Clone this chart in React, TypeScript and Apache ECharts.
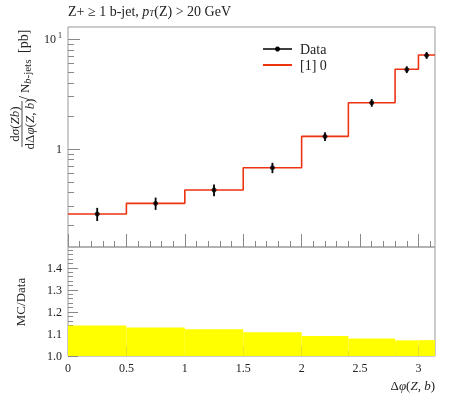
import React, { useEffect, useRef } from "react";
import * as echarts from "echarts";

const PI = Math.PI;
const binEdges = [0, 0.5, 1.0, 1.5, 2.0, 2.4, 2.8, 3.0, PI];
const mcValues = [0.256, 0.32, 0.423, 0.676, 1.305, 2.64, 5.33, 7.19];
const dataX = [0.25, 0.75, 1.25, 1.75, 2.2, 2.6, 2.9, 3.07];
const dataY = [0.256, 0.32, 0.423, 0.676, 1.3, 2.64, 5.3, 7.15];
const dataErr = [0.035, 0.041, 0.051, 0.073, 0.119, 0.211, 0.378, 0.515];
const ratioBandUp = [1.138, 1.129, 1.121, 1.108, 1.091, 1.08, 1.071, 1.072];

const xMajorTicks = [0, 0.5, 1, 1.5, 2, 2.5, 3];
const xMinorTicks = [0.1, 0.2, 0.3, 0.4, 0.6, 0.7, 0.8, 0.9, 1.1, 1.2, 1.3, 1.4, 1.6, 1.7, 1.8, 1.9, 2.1, 2.2, 2.3, 2.4, 2.6, 2.7, 2.8, 2.9, 3.1];
const yMainMajorTicks = [1, 10];
const yMainMinorTicks = [0.2, 0.3, 0.4, 0.5, 0.6, 0.7, 0.8, 0.9, 2, 3, 4, 5, 6, 7, 8, 9];
const yRatioMajorTicks = [1.0, 1.1, 1.2, 1.3, 1.4];
const yRatioMinorTicks = [1.02, 1.04, 1.06, 1.08, 1.12, 1.14, 1.16, 1.18, 1.22, 1.24, 1.26, 1.28, 1.32, 1.34, 1.36, 1.38, 1.42, 1.44, 1.46, 1.48];

const FONT = "Liberation Serif";
const TICK = "#888";
const RED = "#ee3311";

export default function App() {
  const ref = useRef<HTMLDivElement>(null);
  useEffect(() => {
    if (!ref.current) return;
    const chart = echarts.init(ref.current, null, { renderer: "svg" });

    const stepData = binEdges.map((e, i) => [e, mcValues[Math.min(i, mcValues.length - 1)]]);
    const errData = dataX.map((x, i) => [x, dataY[i], dataErr[i]]);
    const bandData = ratioBandUp.map((v, i) => [binEdges[i], binEdges[i + 1], v]);

    const xBase = (grid: number, ticks: number[], len: number, labels: boolean) => ({
      type: "value",
      gridIndex: grid,
      position: "bottom",
      min: 0,
      max: PI,
      axisLine: { show: false },
      splitLine: { show: false },
      axisTick: { show: true, inside: true, length: len, customValues: ticks, lineStyle: { color: TICK } },
      axisLabel: labels
        ? { show: true, customValues: xMajorTicks, margin: 6, fontFamily: FONT, fontSize: 12, color: "#222", formatter: (v: number) => String(v) }
        : { show: false },
    });

    const ital = { fontFamily: FONT, fontSize: 13, fontStyle: "italic", fill: "#222" };

    const option: any = {
      animation: false,
      grid: [
        { left: 68, top: 27, width: 367, height: 220, show: true, borderColor: "#999", borderWidth: 1, backgroundColor: "transparent" },
        { left: 68, top: 247, width: 367, height: 109, show: true, borderColor: "#999", borderWidth: 1, backgroundColor: "transparent" },
      ],
      xAxis: [
        xBase(0, xMajorTicks, 13, false),
        xBase(0, xMinorTicks, 6, false),
        xBase(1, xMajorTicks, 10, true),
        xBase(1, xMinorTicks, 5, false),
      ],
      yAxis: [
        {
          type: "log",
          logBase: 10,
          gridIndex: 0,
          position: "left",
          min: 0.128,
          max: 12.95,
          axisLine: { show: false },
          splitLine: { show: false },
          axisTick: { show: true, inside: true, length: 12, customValues: yMainMajorTicks, lineStyle: { color: TICK } },
          axisLabel: {
            show: true,
            customValues: yMainMajorTicks,
            margin: 6,
            fontFamily: FONT,
            fontSize: 12,
            color: "#222",
            formatter: (v: number) => (v >= 10 ? "10{s|1}" : "1"),
            rich: { s: { fontFamily: FONT, fontSize: 8, color: "#222", padding: [0, 0, 7, 2] } },
          },
        },
        {
          type: "log",
          logBase: 10,
          gridIndex: 0,
          position: "left",
          min: 0.128,
          max: 12.95,
          axisLine: { show: false },
          splitLine: { show: false },
          axisTick: { show: true, inside: true, length: 6, customValues: yMainMinorTicks, lineStyle: { color: TICK } },
          axisLabel: { show: false },
        },
        {
          type: "value",
          gridIndex: 1,
          position: "left",
          min: 1.0,
          max: 1.495,
          axisLine: { show: false },
          splitLine: { show: false },
          axisTick: { show: true, inside: true, length: 10, customValues: yRatioMajorTicks, lineStyle: { color: TICK } },
          axisLabel: {
            show: true,
            customValues: yRatioMajorTicks,
            margin: 6,
            fontFamily: FONT,
            fontSize: 12,
            color: "#222",
            formatter: (v: number) => v.toFixed(1),
          },
        },
        {
          type: "value",
          gridIndex: 1,
          position: "left",
          min: 1.0,
          max: 1.495,
          axisLine: { show: false },
          splitLine: { show: false },
          axisTick: { show: true, inside: true, length: 5, customValues: yRatioMinorTicks, lineStyle: { color: TICK } },
          axisLabel: { show: false },
        },
      ],
      series: [
        {
          type: "custom",
          name: "band",
          xAxisIndex: 2,
          yAxisIndex: 2,
          encode: { x: [0, 1], y: 2 },
          data: bandData,
          z: 1,
          renderItem: (params: any, api: any) => {
            const p1 = api.coord([api.value(0), api.value(2)]);
            const p2 = api.coord([api.value(1), 1.0]);
            return {
              type: "rect",
              shape: { x: p1[0], y: p1[1], width: p2[0] - p1[0], height: p2[1] - p1[1] },
              style: { fill: "#ffff00" },
            };
          },
        },
        {
          type: "line",
          name: "[1] 0",
          xAxisIndex: 0,
          yAxisIndex: 0,
          step: "end",
          data: stepData,
          symbol: "none",
          lineStyle: { color: RED, width: 1.6 },
          z: 2,
        },
        {
          type: "custom",
          name: "err",
          xAxisIndex: 0,
          yAxisIndex: 0,
          encode: { x: 0, y: 1 },
          data: errData,
          z: 3,
          renderItem: (params: any, api: any) => {
            const x = api.value(0);
            const y = api.value(1);
            const e = api.value(2);
            const a = api.coord([x, y + e]);
            const b = api.coord([x, y - e]);
            return {
              type: "line",
              shape: { x1: a[0], y1: a[1], x2: b[0], y2: b[1] },
              style: { stroke: "#000", lineWidth: 1.8 },
            };
          },
        },
        {
          type: "scatter",
          name: "Data",
          xAxisIndex: 0,
          yAxisIndex: 0,
          data: dataX.map((x, i) => [x, dataY[i]]),
          symbol: "circle",
          symbolSize: 5,
          itemStyle: { color: "#000" },
          z: 4,
        },
      ],
      graphic: [
        {
          type: "text",
          left: 68,
          top: 4,
          style: {
            text: "Z+ ≥ 1 b-jet, {i|p}{sub|T}(Z) > 20 GeV",
            fontFamily: FONT,
            fontSize: 14,
            fill: "#222",
            rich: {
              i: { fontFamily: FONT, fontSize: 14, fontStyle: "italic", fill: "#222" },
              sub: { fontFamily: FONT, fontSize: 9, fontStyle: "italic", fill: "#222", padding: [4, 0, 0, 0] },
            },
          },
        },
        // legend
        { type: "line", shape: { x1: 263, y1: 49, x2: 292, y2: 49 }, style: { stroke: "#000", lineWidth: 1.5 } },
        { type: "circle", shape: { cx: 277.5, cy: 49, r: 2.5 }, style: { fill: "#000" } },
        { type: "text", x: 300, y: 49, style: { text: "Data", fontFamily: FONT, fontSize: 14, fill: "#222", verticalAlign: "middle" } },
        { type: "line", shape: { x1: 263, y1: 65, x2: 292, y2: 65 }, style: { stroke: RED, lineWidth: 2 } },
        { type: "text", x: 300, y: 65, style: { text: "[1] 0", fontFamily: FONT, fontSize: 14, fill: "#222", verticalAlign: "middle" } },
        // main y axis title
        {
          type: "group",
          x: 22,
          y: 124,
          rotation: Math.PI / 2,
          children: [
            {
              type: "text",
              x: 0,
              y: -1,
              style: {
                text: "d{i|σ}({i|Zb})",
                fontFamily: FONT,
                fontSize: 13,
                fill: "#222",
                align: "center",
                verticalAlign: "bottom",
                rich: { i: ital },
              },
            },
            { type: "line", shape: { x1: -23, y1: 0, x2: 23, y2: 0 }, style: { stroke: "#222", lineWidth: 0.8 } },
            {
              type: "text",
              x: 0,
              y: 1,
              style: {
                text: "dΔ{i|φ}({i|Z},{i| b})",
                fontFamily: FONT,
                fontSize: 13,
                fill: "#222",
                align: "center",
                verticalAlign: "top",
                rich: { i: ital },
              },
            },
            {
              type: "text",
              x: 24,
              y: 2,
              style: { text: "/", fontFamily: FONT, fontSize: 14, fill: "#222", align: "left", verticalAlign: "middle" },
            },
            {
              type: "text",
              x: 31,
              y: 2,
              style: { text: "N", fontFamily: FONT, fontSize: 13, fill: "#222", align: "left", verticalAlign: "middle" },
            },
            {
              type: "text",
              x: 40,
              y: 5,
              style: {
                text: "{i|b}-jets",
                fontFamily: FONT,
                fontSize: 11,
                fill: "#222",
                align: "left",
                verticalAlign: "middle",
                rich: { i: { fontFamily: FONT, fontSize: 11, fontStyle: "italic", fill: "#222" } },
              },
            },
            {
              type: "text",
              x: 71,
              y: 1,
              style: { text: "[pb]", fontFamily: FONT, fontSize: 14, fill: "#222", align: "left", verticalAlign: "middle" },
            },
          ],
        },
        // ratio y title
        {
          type: "text",
          x: 20,
          y: 302,
          rotation: Math.PI / 2,
          style: { text: "MC/Data", fontFamily: FONT, fontSize: 13, fill: "#222", align: "center", verticalAlign: "middle" },
        },
        // x axis title
        {
          type: "text",
          x: 435,
          y: 385,
          style: {
            text: "Δ{i|φ}({i|Z}, {i|b})",
            fontFamily: FONT,
            fontSize: 13,
            fill: "#222",
            align: "right",
            verticalAlign: "middle",
            rich: { i: ital },
          },
        },
      ],
    };
    chart.setOption(option);
    return () => chart.dispose();
  }, []);
  return <div ref={ref} style={{ position: "fixed", left: 0, top: 0, width: 450, height: 393 }} />;
}
